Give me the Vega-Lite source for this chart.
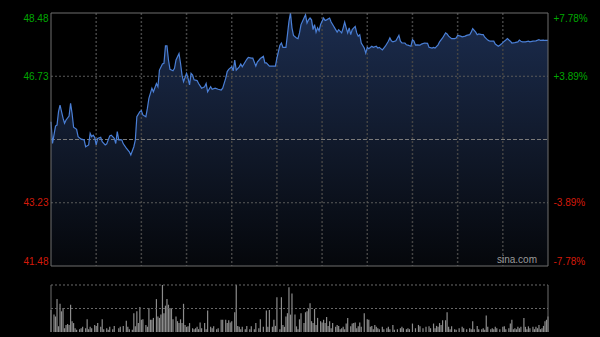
{
  "$schema": "https://vega.github.io/schema/vega-lite/v6.json",
  "autosize": {"type": "none"},
  "width": 497,
  "height": 319,
  "padding": {"left": 51, "top": 13, "right": 52, "bottom": 5},
  "background": "#000000",
  "config": {"view": {"stroke": null}, "font": "Liberation Sans", "scale": {"continuousPadding": 0}},
  "datasets": {
    "price": [
      {"m":0,"p":45.47},{"m":1,"p":44.87},{"m":3,"p":45.35},{"m":4,"p":45.38},{"m":5,"p":45.75},{"m":6,"p":45.93},{"m":8,"p":45.57},{"m":9,"p":45.43},{"m":10,"p":45.52},{"m":12,"p":45.63},{"m":13,"p":45.98},{"m":14,"p":45.70},{"m":15,"p":45.32},{"m":17,"p":45.26},{"m":18,"p":45.06},{"m":20,"p":44.99},{"m":22,"p":44.97},{"m":23,"p":44.78},{"m":25,"p":44.83},{"m":26,"p":45.15},{"m":27,"p":45.06},{"m":28,"p":45.10},{"m":29,"p":45.04},{"m":30,"p":44.83},{"m":31,"p":45.01},{"m":33,"p":45.04},{"m":34,"p":44.92},{"m":36,"p":44.83},{"m":37,"p":44.86},{"m":39,"p":45.08},{"m":40,"p":45.10},{"m":42,"p":45.01},{"m":43,"p":44.87},{"m":44,"p":45.20},{"m":45,"p":44.97},{"m":47,"p":44.97},{"m":48,"p":44.86},{"m":50,"p":44.74},{"m":52,"p":44.64},{"m":53,"p":44.55},{"m":55,"p":44.78},{"m":56,"p":44.97},{"m":57,"p":45.61},{"m":59,"p":45.75},{"m":60,"p":45.78},{"m":61,"p":45.66},{"m":63,"p":45.61},{"m":64,"p":45.84},{"m":65,"p":46.12},{"m":67,"p":46.40},{"m":68,"p":46.30},{"m":70,"p":46.53},{"m":71,"p":46.44},{"m":72,"p":46.90},{"m":74,"p":47.07},{"m":75,"p":47.09},{"m":76,"p":47.57},{"m":77,"p":47.57},{"m":78,"p":47.18},{"m":79,"p":46.92},{"m":81,"p":46.88},{"m":82,"p":46.95},{"m":83,"p":47.18},{"m":85,"p":47.36},{"m":86,"p":47.09},{"m":87,"p":46.76},{"m":88,"p":46.58},{"m":90,"p":46.81},{"m":91,"p":46.67},{"m":92,"p":46.49},{"m":93,"p":46.81},{"m":94,"p":46.76},{"m":95,"p":46.63},{"m":97,"p":46.61},{"m":98,"p":46.53},{"m":100,"p":46.40},{"m":102,"p":46.44},{"m":103,"p":46.53},{"m":104,"p":46.30},{"m":106,"p":46.44},{"m":107,"p":46.37},{"m":109,"p":46.40},{"m":111,"p":46.37},{"m":113,"p":46.35},{"m":114,"p":46.40},{"m":116,"p":46.67},{"m":117,"p":46.86},{"m":118,"p":46.92},{"m":120,"p":46.99},{"m":121,"p":46.88},{"m":122,"p":47.18},{"m":123,"p":46.90},{"m":125,"p":46.99},{"m":126,"p":47.07},{"m":127,"p":46.99},{"m":129,"p":47.13},{"m":130,"p":47.20},{"m":131,"p":47.25},{"m":133,"p":47.23},{"m":134,"p":47.23},{"m":136,"p":47.01},{"m":137,"p":47.12},{"m":139,"p":47.22},{"m":141,"p":47.28},{"m":142,"p":47.10},{"m":143,"p":47.10},{"m":145,"p":47.01},{"m":146,"p":47.01},{"m":149,"p":47.01},{"m":150,"p":47.23},{"m":152,"p":47.59},{"m":153,"p":47.65},{"m":154,"p":47.53},{"m":156,"p":47.53},{"m":157,"p":47.88},{"m":158,"p":48.25},{"m":159,"p":48.48},{"m":160,"p":48.07},{"m":161,"p":47.86},{"m":163,"p":47.79},{"m":164,"p":47.77},{"m":165,"p":47.93},{"m":166,"p":48.16},{"m":168,"p":48.34},{"m":169,"p":48.43},{"m":170,"p":48.20},{"m":171,"p":48.29},{"m":172,"p":48.34},{"m":173,"p":48.29},{"m":174,"p":48.02},{"m":175,"p":48.16},{"m":176,"p":47.95},{"m":177,"p":48.07},{"m":178,"p":47.99},{"m":179,"p":48.16},{"m":181,"p":48.34},{"m":182,"p":48.27},{"m":183,"p":48.29},{"m":185,"p":48.34},{"m":186,"p":48.23},{"m":187,"p":48.16},{"m":189,"p":48.02},{"m":190,"p":47.95},{"m":191,"p":48.02},{"m":193,"p":47.93},{"m":194,"p":48.07},{"m":195,"p":48.23},{"m":196,"p":48.07},{"m":197,"p":47.93},{"m":198,"p":48.07},{"m":199,"p":47.88},{"m":200,"p":48.02},{"m":202,"p":48.11},{"m":203,"p":47.93},{"m":204,"p":47.84},{"m":205,"p":47.88},{"m":206,"p":47.65},{"m":208,"p":47.51},{"m":209,"p":47.37},{"m":210,"p":47.53},{"m":211,"p":47.49},{"m":213,"p":47.56},{"m":214,"p":47.53},{"m":216,"p":47.56},{"m":217,"p":47.51},{"m":218,"p":47.53},{"m":220,"p":47.46},{"m":221,"p":47.51},{"m":222,"p":47.56},{"m":224,"p":47.70},{"m":225,"p":47.79},{"m":226,"p":47.71},{"m":227,"p":47.68},{"m":229,"p":47.71},{"m":230,"p":47.79},{"m":231,"p":47.86},{"m":232,"p":47.70},{"m":233,"p":47.65},{"m":235,"p":47.65},{"m":236,"p":47.60},{"m":237,"p":47.59},{"m":239,"p":47.56},{"m":240,"p":47.74},{"m":241,"p":47.70},{"m":242,"p":47.59},{"m":243,"p":47.60},{"m":245,"p":47.59},{"m":246,"p":47.62},{"m":248,"p":47.65},{"m":250,"p":47.64},{"m":251,"p":47.53},{"m":253,"p":47.51},{"m":254,"p":47.53},{"m":255,"p":47.51},{"m":257,"p":47.60},{"m":258,"p":47.68},{"m":260,"p":47.79},{"m":262,"p":47.93},{"m":263,"p":47.90},{"m":264,"p":47.84},{"m":266,"p":47.77},{"m":268,"p":47.77},{"m":269,"p":47.79},{"m":270,"p":47.86},{"m":272,"p":47.84},{"m":273,"p":47.82},{"m":275,"p":47.84},{"m":276,"p":47.86},{"m":278,"p":47.88},{"m":279,"p":47.95},{"m":280,"p":48.05},{"m":282,"p":47.95},{"m":283,"p":47.88},{"m":284,"p":47.90},{"m":286,"p":47.88},{"m":287,"p":47.88},{"m":288,"p":47.81},{"m":290,"p":47.73},{"m":291,"p":47.71},{"m":292,"p":47.70},{"m":294,"p":47.70},{"m":295,"p":47.62},{"m":297,"p":47.56},{"m":298,"p":47.59},{"m":299,"p":47.62},{"m":301,"p":47.70},{"m":302,"p":47.73},{"m":303,"p":47.77},{"m":305,"p":47.70},{"m":306,"p":47.65},{"m":308,"p":47.66},{"m":310,"p":47.68},{"m":311,"p":47.73},{"m":312,"p":47.70},{"m":313,"p":47.68},{"m":315,"p":47.68},{"m":317,"p":47.70},{"m":318,"p":47.68},{"m":320,"p":47.70},{"m":322,"p":47.71},{"m":324,"p":47.74},{"m":325,"p":47.72},{"m":327,"p":47.73},{"m":328,"p":47.72},{"m":330,"p":47.72}
    ],
    "vol": [
      {"m":0,"v":47},{"m":2,"v":37},{"m":3,"v":33},{"m":4,"v":70},{"m":5,"v":12},{"m":6,"v":60},{"m":7,"v":44},{"m":8,"v":51},{"m":9,"v":8},{"m":10,"v":15},{"m":11,"v":17},{"m":12,"v":15},{"m":13,"v":58},{"m":14,"v":23},{"m":15,"v":19},{"m":16,"v":8},{"m":17,"v":5},{"m":19,"v":6},{"m":20,"v":8},{"m":21,"v":11},{"m":23,"v":8},{"m":24,"v":27},{"m":25,"v":6},{"m":26,"v":11},{"m":27,"v":8},{"m":29,"v":15},{"m":30,"v":13},{"m":31,"v":19},{"m":33,"v":11},{"m":34,"v":27},{"m":35,"v":6},{"m":37,"v":8},{"m":38,"v":5},{"m":39,"v":11},{"m":41,"v":6},{"m":42,"v":13},{"m":45,"v":8},{"m":46,"v":11},{"m":48,"v":13},{"m":50,"v":24},{"m":51,"v":11},{"m":52,"v":6},{"m":54,"v":5},{"m":55,"v":40},{"m":56,"v":12},{"m":57,"v":44},{"m":58,"v":19},{"m":59,"v":53},{"m":60,"v":26},{"m":61,"v":27},{"m":63,"v":15},{"m":64,"v":11},{"m":65,"v":51},{"m":66,"v":26},{"m":67,"v":26},{"m":68,"v":30},{"m":70,"v":70},{"m":71,"v":33},{"m":72,"v":30},{"m":73,"v":37},{"m":74,"v":100},{"m":75,"v":40},{"m":76,"v":56},{"m":77,"v":70},{"m":78,"v":58},{"m":79,"v":51},{"m":80,"v":49},{"m":81,"v":27},{"m":83,"v":33},{"m":84,"v":23},{"m":85,"v":19},{"m":86,"v":27},{"m":87,"v":19},{"m":88,"v":60},{"m":89,"v":15},{"m":90,"v":11},{"m":91,"v":12},{"m":92,"v":19},{"m":94,"v":8},{"m":95,"v":6},{"m":96,"v":8},{"m":97,"v":11},{"m":98,"v":6},{"m":99,"v":20},{"m":100,"v":8},{"m":102,"v":19},{"m":103,"v":6},{"m":104,"v":46},{"m":106,"v":11},{"m":107,"v":8},{"m":108,"v":12},{"m":110,"v":6},{"m":111,"v":8},{"m":113,"v":26},{"m":114,"v":26},{"m":116,"v":26},{"m":117,"v":19},{"m":118,"v":25},{"m":119,"v":20},{"m":120,"v":23},{"m":122,"v":42},{"m":123,"v":100},{"m":124,"v":13},{"m":125,"v":11},{"m":126,"v":6},{"m":127,"v":11},{"m":129,"v":6},{"m":130,"v":13},{"m":132,"v":6},{"m":133,"v":12},{"m":135,"v":6},{"m":136,"v":19},{"m":138,"v":8},{"m":139,"v":27},{"m":141,"v":11},{"m":143,"v":46},{"m":144,"v":11},{"m":145,"v":47},{"m":147,"v":11},{"m":148,"v":26},{"m":149,"v":13},{"m":150,"v":74},{"m":152,"v":6},{"m":153,"v":74},{"m":154,"v":15},{"m":155,"v":11},{"m":156,"v":33},{"m":157,"v":40},{"m":158,"v":95},{"m":159,"v":37},{"m":160,"v":82},{"m":162,"v":37},{"m":163,"v":12},{"m":164,"v":6},{"m":165,"v":27},{"m":166,"v":40},{"m":168,"v":19},{"m":169,"v":42},{"m":170,"v":44},{"m":171,"v":49},{"m":172,"v":61},{"m":173,"v":23},{"m":174,"v":19},{"m":175,"v":49},{"m":176,"v":15},{"m":177,"v":30},{"m":179,"v":23},{"m":180,"v":20},{"m":181,"v":26},{"m":182,"v":19},{"m":183,"v":32},{"m":184,"v":13},{"m":185,"v":23},{"m":186,"v":8},{"m":187,"v":19},{"m":189,"v":11},{"m":190,"v":15},{"m":191,"v":13},{"m":192,"v":6},{"m":193,"v":8},{"m":194,"v":11},{"m":195,"v":6},{"m":196,"v":18},{"m":197,"v":30},{"m":199,"v":12},{"m":200,"v":18},{"m":201,"v":19},{"m":202,"v":20},{"m":203,"v":8},{"m":204,"v":12},{"m":205,"v":20},{"m":206,"v":11},{"m":208,"v":40},{"m":210,"v":27},{"m":211,"v":26},{"m":212,"v":11},{"m":213,"v":13},{"m":214,"v":6},{"m":215,"v":15},{"m":216,"v":11},{"m":217,"v":8},{"m":218,"v":6},{"m":220,"v":11},{"m":221,"v":6},{"m":223,"v":8},{"m":224,"v":11},{"m":225,"v":6},{"m":227,"v":15},{"m":228,"v":5},{"m":230,"v":6},{"m":232,"v":8},{"m":233,"v":11},{"m":234,"v":8},{"m":236,"v":6},{"m":237,"v":8},{"m":238,"v":6},{"m":240,"v":18},{"m":242,"v":8},{"m":244,"v":15},{"m":245,"v":12},{"m":247,"v":8},{"m":249,"v":11},{"m":251,"v":12},{"m":252,"v":8},{"m":254,"v":18},{"m":255,"v":8},{"m":256,"v":13},{"m":257,"v":11},{"m":258,"v":19},{"m":259,"v":15},{"m":260,"v":25},{"m":262,"v":25},{"m":263,"v":42},{"m":264,"v":11},{"m":265,"v":6},{"m":266,"v":12},{"m":268,"v":6},{"m":269,"v":5},{"m":271,"v":8},{"m":273,"v":11},{"m":274,"v":8},{"m":276,"v":6},{"m":278,"v":8},{"m":279,"v":6},{"m":280,"v":23},{"m":281,"v":6},{"m":283,"v":13},{"m":284,"v":6},{"m":286,"v":6},{"m":287,"v":8},{"m":288,"v":5},{"m":289,"v":35},{"m":290,"v":11},{"m":292,"v":6},{"m":293,"v":8},{"m":294,"v":6},{"m":295,"v":11},{"m":296,"v":8},{"m":298,"v":6},{"m":300,"v":11},{"m":301,"v":12},{"m":302,"v":6},{"m":304,"v":8},{"m":305,"v":18},{"m":306,"v":26},{"m":307,"v":6},{"m":308,"v":8},{"m":309,"v":6},{"m":310,"v":11},{"m":311,"v":8},{"m":312,"v":11},{"m":314,"v":30},{"m":315,"v":11},{"m":316,"v":6},{"m":317,"v":12},{"m":318,"v":8},{"m":320,"v":11},{"m":321,"v":6},{"m":322,"v":11},{"m":323,"v":8},{"m":324,"v":15},{"m":325,"v":6},{"m":326,"v":8},{"m":327,"v":13},{"m":328,"v":23},{"m":329,"v":26},{"m":330,"v":33}
    ]
  },
  "resolve": {"scale": {"y": "independent"}, "axis": {"y": "independent"}},
  "layer": [
    {
      "data": {"name": "price"},
      "mark": {"type": "area", "color": {"gradient": "linear", "x1": 0, "y1": 0, "x2": 0, "y2": 1, "stops": [{"offset": 0, "color": "#1b2c4e"}, {"offset": 0.5, "color": "#111a2c"}, {"offset": 1, "color": "#05070b"}]}},
      "encoding": {
        "x": {"field": "m", "type": "quantitative", "scale": {"domain": [0, 330], "nice": false, "padding": 0}, "axis": null},
        "y": {"field": "p", "type": "quantitative", "scale": {"domain": [39.654, 48.48], "nice": false, "zero": false},
          "axis": {"orient": "left", "values": [48.48, 46.73, 43.23, 41.48], "domain": false, "ticks": false, "grid": false, "title": null, "format": ".2f", "labelPadding": 3, "labelFontSize": 10, "labelFont": "Liberation Sans",
            "labelColor": {"condition": {"test": "datum.value > 45", "value": "#00a800"}, "value": "#d41a0a"},
            "labelBaseline": {"condition": [{"test": "datum.value > 48", "value": "top"}, {"test": "datum.value < 42", "value": "bottom"}], "value": "middle"}}},
        "y2": {"datum": 41.48}
      }
    },
    {
      "data": {"values": [{"m": 30}, {"m": 60}, {"m": 90}, {"m": 120}, {"m": 150}, {"m": 180}, {"m": 210}, {"m": 240}, {"m": 270}, {"m": 300}]},
      "mark": {"type": "rule", "color": "#444444", "strokeWidth": 1.5, "strokeDash": [2, 2]},
      "encoding": {
        "x": {"field": "m", "type": "quantitative", "scale": {"domain": [0, 330], "nice": false, "padding": 0}, "axis": null},
        "y": {"datum": 48.48, "scale": {"domain": [39.654, 48.48], "nice": false, "zero": false}, "axis": null},
        "y2": {"datum": 41.48}
      }
    },
    {
      "data": {"values": [{"p": 46.73}, {"p": 43.23}]},
      "mark": {"type": "rule", "color": "#5a5a5a", "strokeWidth": 1, "strokeDash": [2, 2]},
      "encoding": {
        "x": {"datum": 0, "scale": {"domain": [0, 330], "nice": false, "padding": 0}, "axis": null},
        "x2": {"datum": 330},
        "y": {"field": "p", "type": "quantitative", "scale": {"domain": [39.654, 48.48], "nice": false, "zero": false}, "axis": null}
      }
    },
    {
      "data": {"values": [{"p": 44.98}]},
      "mark": {"type": "rule", "color": "#7a7a7a", "strokeWidth": 1, "strokeDash": [4, 2]},
      "encoding": {
        "x": {"datum": 0, "scale": {"domain": [0, 330], "nice": false, "padding": 0}, "axis": null},
        "x2": {"datum": 330},
        "y": {"field": "p", "type": "quantitative", "scale": {"domain": [39.654, 48.48], "nice": false, "zero": false}, "axis": null}
      }
    },
    {
      "data": {"name": "price"},
      "mark": {"type": "line", "color": "#4a7fd6", "strokeWidth": 1.2},
      "encoding": {
        "x": {"field": "m", "type": "quantitative", "scale": {"domain": [0, 330], "nice": false, "padding": 0}, "axis": null},
        "y": {"field": "p", "type": "quantitative", "scale": {"domain": [39.654, 48.48], "nice": false, "zero": false},
          "axis": {"orient": "right", "values": [48.48, 46.73, 43.23, 41.48], "domain": false, "ticks": false, "grid": false, "title": null, "labelPadding": 5, "labelFontSize": 10, "labelFont": "Liberation Sans",
            "labelExpr": "datum.value > 46 ? (datum.value > 48 ? '+7.78%' : '+3.89%') : (datum.value < 42 ? '-7.78%' : '-3.89%')",
            "labelColor": {"condition": {"test": "datum.value > 45", "value": "#00a800"}, "value": "#d41a0a"},
            "labelBaseline": {"condition": [{"test": "datum.value > 48", "value": "top"}, {"test": "datum.value < 42", "value": "bottom"}], "value": "middle"}}}
      }
    },
    {
      "data": {"values": [{"label": "sina.com"}]},
      "mark": {"type": "text", "color": "#9a9a9a", "fontSize": 10, "align": "right", "baseline": "bottom", "dy": -1},
      "encoding": {
        "x": {"datum": 322.7, "scale": {"domain": [0, 330], "nice": false, "padding": 0}, "axis": null},
        "y": {"datum": 41.48, "scale": {"domain": [39.654, 48.48], "nice": false, "zero": false}, "axis": null},
        "text": {"field": "label"}
      }
    },
    {
      "data": {"values": [{"a": 1}]},
      "mark": {"type": "rect", "fill": null, "fillOpacity": 0, "stroke": "#6e6e6e", "strokeWidth": 1},
      "encoding": {
        "x": {"datum": 0, "scale": {"domain": [0, 330], "nice": false, "padding": 0}, "axis": null},
        "x2": {"datum": 330},
        "y": {"datum": 48.48, "scale": {"domain": [39.654, 48.48], "nice": false, "zero": false}, "axis": null},
        "y2": {"datum": 41.48}
      }
    },
    {
      "data": {"name": "vol"},
      "mark": {"type": "bar", "color": "#8c8c8c", "size": 1.2},
      "encoding": {
        "x": {"field": "m", "type": "quantitative", "scale": {"domain": [0, 330], "nice": false, "padding": 0}, "axis": null},
        "y": {"field": "v", "type": "quantitative", "scale": {"domain": [0, 678.72], "nice": false}, "axis": null}
      }
    },
    {
      "data": {"values": [{"v": 100}, {"v": 50}]},
      "mark": {"type": "rule", "color": "#6a6a6a", "strokeWidth": 1, "strokeDash": [2, 2]},
      "encoding": {
        "x": {"datum": 0, "scale": {"domain": [0, 330], "nice": false, "padding": 0}, "axis": null},
        "x2": {"datum": 330},
        "y": {"field": "v", "type": "quantitative", "scale": {"domain": [0, 678.72], "nice": false}, "axis": null}
      }
    },
    {
      "data": {"values": [{"m": 0}, {"m": 330}]},
      "mark": {"type": "rule", "color": "#6e6e6e", "strokeWidth": 1},
      "encoding": {
        "x": {"field": "m", "type": "quantitative", "scale": {"domain": [0, 330], "nice": false, "padding": 0}, "axis": null},
        "y": {"datum": 0, "scale": {"domain": [0, 678.72], "nice": false}, "axis": null},
        "y2": {"datum": 100}
      }
    }
  ]
}
